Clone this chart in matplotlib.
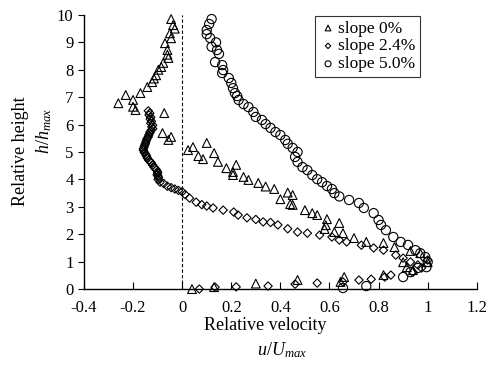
import matplotlib
matplotlib.use("Agg")
import matplotlib.pyplot as plt

plt.rcParams['font.family'] = ['Liberation Serif', 'DejaVu Serif']
plt.rcParams['mathtext.fontset'] = 'custom'
plt.rcParams['mathtext.rm'] = 'Liberation Serif'
plt.rcParams['mathtext.it'] = 'Liberation Serif:italic'

# --- Data ---
u_0 = [-0.045, -0.037, -0.03, -0.05, -0.045, -0.07, -0.06, -0.056, -0.06, -0.077,
       -0.085, -0.097, -0.106, -0.115, -0.122, -0.142, -0.17, -0.2, -0.23, -0.26,
       -0.2, -0.19, -0.073, -0.08, -0.045, -0.056,
       0.024, 0.044, 0.066, 0.085, 0.1, 0.13, 0.146, 0.18, 0.207, 0.22, 0.207,
       0.25, 0.27, 0.31, 0.34, 0.375, 0.43, 0.45, 0.4, 0.44, 0.45, 0.5, 0.53,
       0.55, 0.59, 0.64, 0.585, 0.58, 0.62, 0.655, 0.70, 0.75, 0.82, 0.865, 0.93,
       0.97, 0.90, 0.915, 0.94, 1.0,
       0.04, 0.13, 0.30, 0.47, 0.66, 0.645, 0.82]
h_0 = [9.85, 9.63, 9.5, 9.33, 9.15, 8.97, 8.72, 8.43, 8.55, 8.25,
       8.1, 8.0, 7.8, 7.68, 7.55, 7.37, 7.15, 6.9, 7.08, 6.78,
       6.65, 6.53, 6.42, 5.69, 5.55, 5.44,
       5.07, 5.18, 4.85, 4.74, 5.33, 4.96, 4.64, 4.41, 4.27, 4.53, 4.16,
       4.09, 3.98, 3.87, 3.74, 3.65, 3.52, 3.43, 3.28, 3.1, 3.07, 2.88, 2.77,
       2.7, 2.55, 2.41, 2.33, 2.19, 2.08, 2.04, 1.86, 1.72, 1.68, 1.53, 1.39,
       1.31, 0.98, 0.80, 0.69, 0.98,
       0.0, 0.07, 0.2, 0.33, 0.44, 0.26, 0.51]

u_24 = [-0.138, -0.132, -0.135, -0.128, -0.13, -0.125, -0.128, -0.12, -0.124, -0.12,
        -0.126, -0.13, -0.132, -0.136, -0.138, -0.142, -0.145, -0.148, -0.15, -0.153,
        -0.155, -0.158, -0.158, -0.155, -0.152, -0.148, -0.145, -0.142, -0.136, -0.13,
        -0.125, -0.12, -0.115, -0.11, -0.105, -0.1, -0.1, -0.102, -0.098, -0.096,
        -0.098, -0.09, -0.075, -0.06, -0.045, -0.03, -0.015, 0.0,
        0.012, 0.03, 0.057, 0.08, 0.1, 0.126, 0.167, 0.21, 0.228, 0.264, 0.3,
        0.33, 0.36, 0.39, 0.43, 0.47, 0.51, 0.56, 0.61, 0.64, 0.67, 0.73, 0.78,
        0.82, 0.87, 0.90, 0.93, 0.96, 0.975, 0.94, 1.0,
        0.07, 0.134, 0.22, 0.35, 0.46, 0.55, 0.655, 0.72, 0.77, 0.825, 0.85]
h_24 = [6.5, 6.42, 6.35, 6.27, 6.2, 6.12, 6.05, 5.98, 5.92, 5.85,
        5.8, 5.74, 5.69, 5.62, 5.55, 5.5, 5.44, 5.37, 5.3, 5.24,
        5.18, 5.12, 5.07, 5.0, 4.96, 4.9, 4.85, 4.78, 4.7, 4.65,
        4.6, 4.52, 4.45, 4.4, 4.35, 4.28, 4.23, 4.17, 4.12, 4.06,
        4.0, 3.9, 3.85, 3.75, 3.7, 3.65, 3.6, 3.55,
        3.45, 3.32, 3.17, 3.08, 3.03, 2.96, 2.88, 2.81, 2.7, 2.6, 2.54,
        2.45, 2.43, 2.34, 2.2, 2.08, 2.04, 1.97, 1.9, 1.79, 1.72, 1.6, 1.5,
        1.42, 1.24, 1.13, 0.99, 0.88, 0.77, 0.62, 1.06,
        0.0, 0.07, 0.08, 0.11, 0.18, 0.22, 0.26, 0.33, 0.36, 0.44, 0.51]

u_50 = [0.12, 0.11, 0.1, 0.1, 0.114, 0.138, 0.12, 0.142, 0.15, 0.134, 0.163, 0.167,
        0.163, 0.19, 0.2, 0.207, 0.215, 0.224, 0.23, 0.25, 0.27, 0.29, 0.3, 0.325,
        0.34, 0.36, 0.38, 0.4, 0.42, 0.43, 0.45, 0.47, 0.46, 0.47, 0.49, 0.51,
        0.53, 0.55, 0.57, 0.59, 0.61, 0.62, 0.64, 0.68, 0.72, 0.74, 0.78, 0.8,
        0.81, 0.83, 0.86, 0.89, 0.92, 0.95, 0.97, 0.99, 1.0, 0.995, 0.96, 0.93,
        0.9, 0.75, 0.655]
h_50 = [9.85, 9.67, 9.45, 9.3, 9.16, 9.0, 8.84, 8.72, 8.58, 8.28, 8.17, 7.99,
        7.88, 7.7, 7.52, 7.33, 7.15, 7.04, 6.9, 6.75, 6.64, 6.46, 6.28, 6.17,
        6.02, 5.88, 5.73, 5.62, 5.44, 5.3, 5.15, 5.0, 4.82, 4.64, 4.45, 4.34,
        4.16, 4.01, 3.9, 3.76, 3.65, 3.5, 3.38, 3.25, 3.14, 2.96, 2.77, 2.52,
        2.34, 2.15, 1.9, 1.72, 1.61, 1.42, 1.31, 1.17, 0.99, 0.8, 0.77, 0.62,
        0.44, 0.11, 0.04]

labels = ["slope 0%", "slope 2.4%", "slope 5.0%"]

# --- Plot ---
fig = plt.figure(figsize=(4.91, 3.65), dpi=100)
ax = fig.add_axes([0.171, 0.208, 0.8, 0.751])

ax.axvline(0, color="black", linestyle=(0, (3, 2)), linewidth=0.8)
ax.scatter(u_0, h_0, marker="^", s=40, facecolors="none", edgecolors="black",
           linewidths=0.8, label=labels[0], clip_on=False, zorder=3)
ax.scatter(u_24, h_24, marker="D", s=18, facecolors="none", edgecolors="black",
           linewidths=0.8, label=labels[1], clip_on=False, zorder=3)
ax.scatter(u_50, h_50, marker="o", s=44, facecolors="none", edgecolors="black",
           linewidths=0.8, label=labels[2], clip_on=False, zorder=3)

ax.set_xlim(-0.4, 1.2)
ax.set_ylim(0, 10)
ax.set_xticks([-0.4, -0.2, 0, 0.2, 0.4, 0.6, 0.8, 1, 1.2])
ax.set_xticklabels(["-0.4", "-0.2", "0", "0.2", "0.4", "0.6", "0.8", "1", "1.2"])
ax.set_yticks(range(0, 11))
ax.spines["top"].set_visible(False)
ax.spines["right"].set_visible(False)
for s in ["left", "bottom"]:
    ax.spines[s].set_linewidth(1.0)
ax.tick_params(axis="x", direction="in", length=5, labelsize=12, pad=8)
ax.tick_params(axis="y", direction="out", length=4, labelsize=12)

leg = ax.legend(loc="upper left", bbox_to_anchor=(0.575, 1.015), fontsize=12.5,
                frameon=True, fancybox=False, edgecolor="black",
                handletextpad=0.1, handlelength=1.0, borderpad=0.25,
                labelspacing=0.1, markerscale=0.65, borderaxespad=0.3)
leg.get_frame().set_linewidth(0.8)

fig.text(0.54, 0.108, "Relative velocity", ha="center", va="center", fontsize=13)
fig.text(0.575, 0.04, r"$\mathit{u/U}_{\mathit{max}}$", ha="center", va="center",
         fontsize=13)
fig.text(0.042, 0.585, "Relative height", ha="center", va="center",
         rotation=90, fontsize=13)
fig.text(0.09, 0.64, r"$\mathit{h/h}_{\mathit{max}}$", ha="center", va="center",
         rotation=90, fontsize=13)

fig.savefig("out.png", dpi=100)
